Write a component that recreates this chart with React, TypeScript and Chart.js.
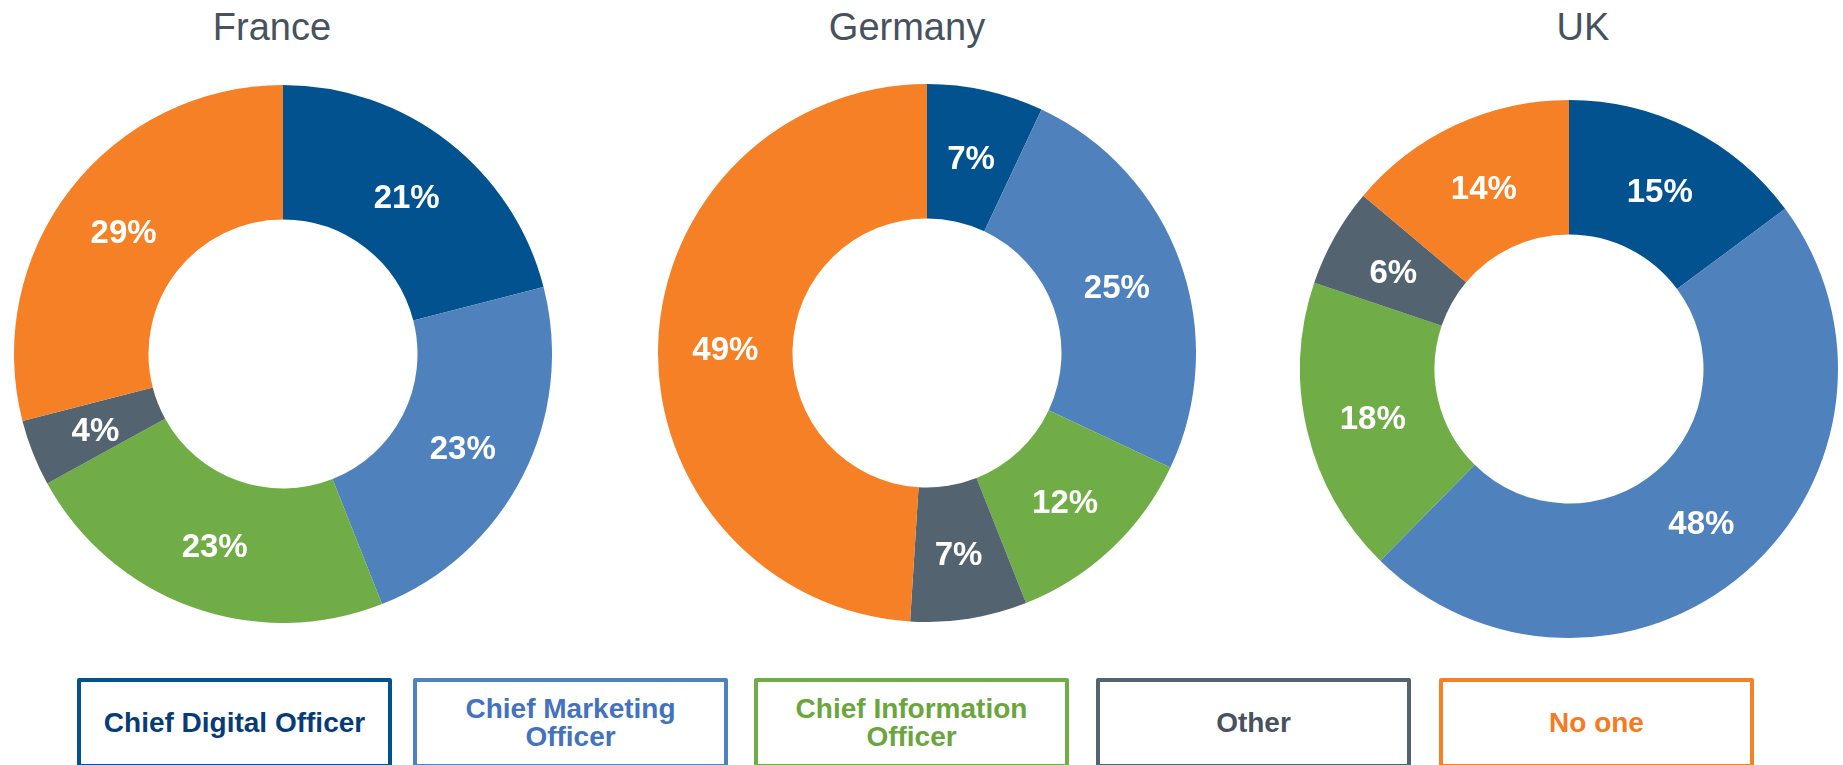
import React, { useEffect, useRef } from 'react';
import { Chart, registerables } from 'chart.js';

Chart.register(...registerables);

// ---- data ----
const categories = [
  'Chief Digital Officer',
  'Chief Marketing Officer',
  'Chief Information Officer',
  'Other',
  'No one',
];
const legendLines = [
  ['Chief Digital Officer'],
  ['Chief Marketing', 'Officer'],
  ['Chief Information', 'Officer'],
  ['Other'],
  ['No one'],
];
const countries = ['France', 'Germany', 'UK'];
const franceShares = [21, 23, 23, 4, 29];
const germanyShares = [7, 25, 12, 7, 49];
const ukShares = [15, 48, 18, 6, 14];
const sharesByCountry = [franceShares, germanyShares, ukShares];

// ---- styles ----
const sliceColors = ['#02528F', '#4F81BD', '#70AD47', '#536470', '#F68025'];
const legendTextColors = ['#073C78', '#4472BE', '#6AA53E', '#46535F', '#F47B20'];
const FONT = '"Liberation Sans", Arial, Helvetica, sans-serif';
const SIZE = 538;
const chartPlacement = [
  { left: 14, top: 85, titleX: 272 },
  { left: 658, top: 84, titleX: 907 },
  { left: 1300, top: 100, titleX: 1583 },
];
const legendLefts = [77, 413, 754, 1096, 1439];

const sliceLabelPlugin = {
  id: 'sliceLabels',
  afterDatasetsDraw(chart: any) {
    const ctx = chart.ctx;
    const meta = chart.getDatasetMeta(0);
    const values = chart.data.datasets[0].data;
    ctx.save();
    ctx.fillStyle = '#ffffff';
    ctx.font = `bold 33px ${FONT}`;
    ctx.textAlign = 'center';
    ctx.textBaseline = 'middle';
    meta.data.forEach((arc: any, i: number) => {
      const p = arc.getCenterPoint();
      ctx.fillText(`${values[i]}%`, p.x, p.y + 4);
    });
    ctx.restore();
  },
};

function Doughnut({ values, left, top }: { values: number[]; left: number; top: number }) {
  const ref = useRef<HTMLCanvasElement | null>(null);
  useEffect(() => {
    if (!ref.current) return;
    const chart = new Chart(ref.current, {
      type: 'doughnut',
      data: {
        labels: categories,
        datasets: [
          {
            data: values,
            backgroundColor: sliceColors,
            borderWidth: 0,
            hoverOffset: 0,
          },
        ],
      },
      options: {
        responsive: false,
        animation: false,
        cutout: '50%',
        events: [],
        layout: { padding: 0 },
        plugins: {
          legend: { display: false },
          tooltip: { enabled: false },
          title: { display: false },
        },
      },
      plugins: [sliceLabelPlugin],
    });
    return () => chart.destroy();
  }, [values]);
  return (
    <canvas
      ref={ref}
      width={SIZE}
      height={SIZE}
      style={{ position: 'absolute', left, top, width: SIZE, height: SIZE }}
    />
  );
}

export default function App() {
  return (
    <div
      style={{
        position: 'absolute',
        left: 0,
        top: 0,
        width: 1843,
        height: 765,
        overflow: 'hidden',
        background: '#ffffff',
      }}
    >
      {countries.map((name, i) => (
        <div
          key={'t' + name}
          style={{
            position: 'absolute',
            left: chartPlacement[i].titleX - 200,
            top: 8,
            width: 400,
            textAlign: 'center',
            fontFamily: FONT,
            fontSize: 38,
            lineHeight: '38px',
            color: '#46525E',
          }}
        >
          {name}
        </div>
      ))}
      {countries.map((name, i) => (
        <Doughnut
          key={'c' + name}
          values={sharesByCountry[i]}
          left={chartPlacement[i].left}
          top={chartPlacement[i].top}
        />
      ))}
      {categories.map((cat, i) => (
        <div
          key={'l' + cat}
          style={{
            position: 'absolute',
            left: legendLefts[i],
            top: 678,
            width: 315,
            height: 90,
            boxSizing: 'border-box',
            border: `4px solid ${sliceColors[i]}`,
            borderRadius: 2,
            display: 'flex',
            flexDirection: 'column',
            alignItems: 'center',
            justifyContent: 'center',
            fontFamily: FONT,
            fontWeight: 'bold',
            fontSize: 28,
            lineHeight: '28px',
            color: legendTextColors[i],
            textAlign: 'center',
          }}
        >
          {legendLines[i].map((line) => (
            <div key={line}>{line}</div>
          ))}
        </div>
      ))}
    </div>
  );
}
